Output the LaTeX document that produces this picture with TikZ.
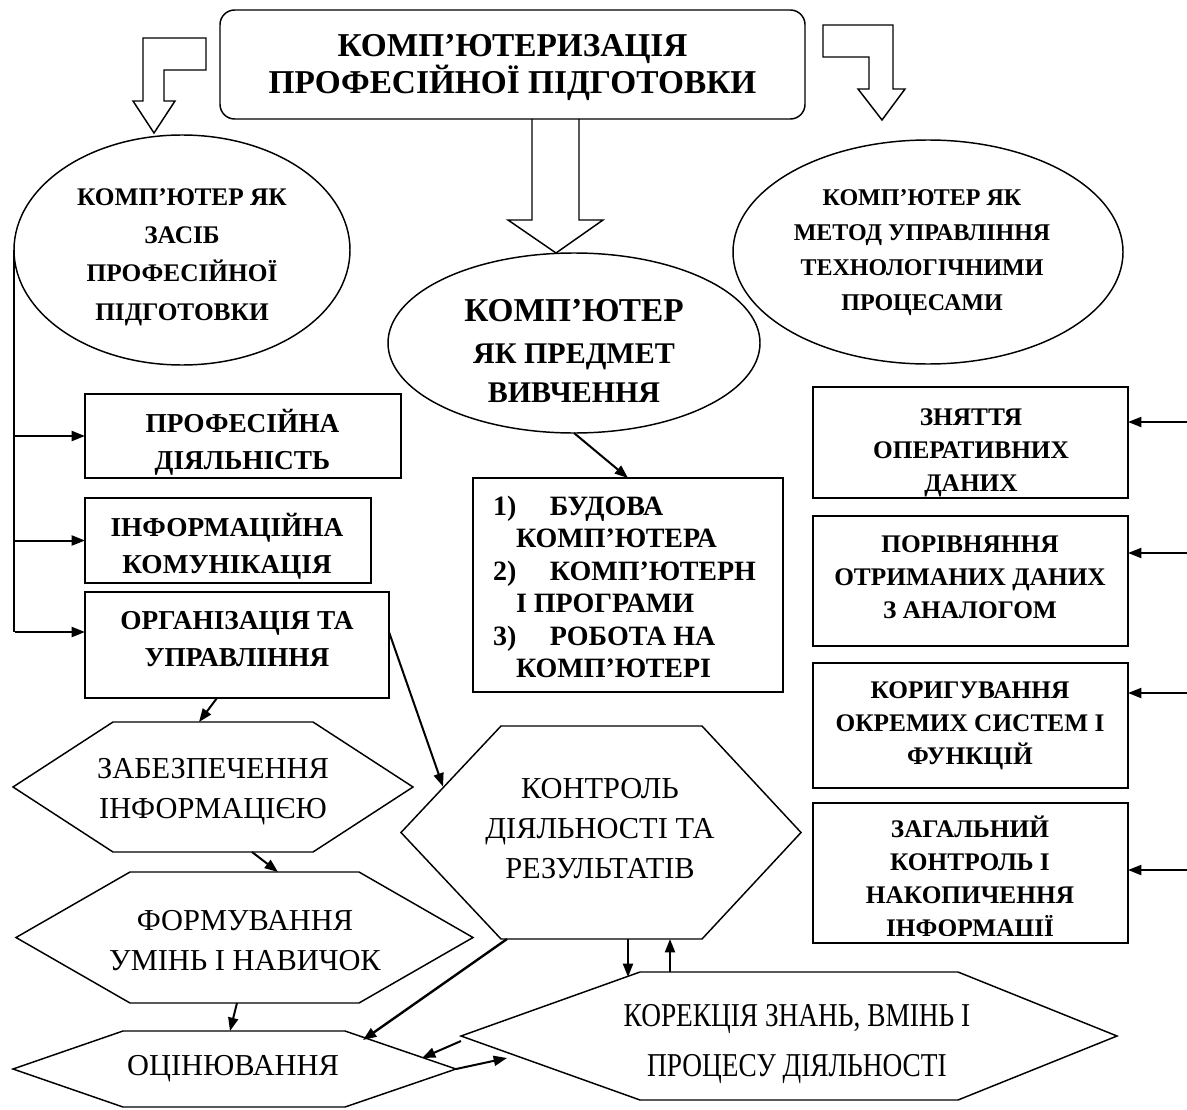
\documentclass[tikz,border=0pt]{standalone}
\usepackage{fontspec}
\setmainfont{Liberation Serif}
\newfontfamily\condfont[FakeStretch=0.82]{Liberation Serif}
\usetikzlibrary{arrows.meta,calc,shapes.geometric}
\tikzset{
 shp/.style={draw, line width=1.1pt, inner sep=0pt, outer sep=0pt},
 box/.style={shp, rectangle},
 oval/.style={shp, ellipse},
 ghost/.style={rectangle, inner sep=0pt, outer sep=0pt},
 hexline/.style={line width=1.1pt, line join=miter},
 blk/.style={draw, line width=1.1pt, line join=miter},
 ln/.style={line width=1.5pt},
 arr/.style={line width=1.5pt, -{Triangle[length=10pt,width=7.5pt]}},
 tx/.style={align=center, inner sep=0pt, outer sep=0pt},
 hdr/.style={tx, font=\fontsize{25}{27.75}\selectfont\bfseries},
 elL/.style={tx, font=\fontsize{19}{28.75}\selectfont\bfseries},
 elR/.style={tx, font=\fontsize{18}{26.25}\selectfont\bfseries},
 bxL/.style={tx, font=\fontsize{20.5}{27.75}\selectfont\bfseries},
 lst/.style={tx, align=left, font=\fontsize{21}{24.4}\selectfont\bfseries},
 bxR/.style={tx, font=\fontsize{19}{24.75}\selectfont\bfseries},
 hx/.style={tx, font=\fontsize{22.8}{30}\selectfont},
 kr/.style={tx, font=\condfont\fontsize{25}{37.5}\selectfont},
}
\newcommand{\drawhexagon}[3]{\draw[hexline] (#1.west) -- ($(#1.north west)+(#2,0)$) -- ($(#1.north east)+(-#3,0)$) -- (#1.east) -- ($(#1.south east)+(-#3,0)$) -- ($(#1.south west)+(#2,0)$) -- cycle;}
\begin{document}
\begin{tikzpicture}[x=0.75pt,y=-0.75pt]
\useasboundingbox (0,0) rectangle (1187,1109);

% top box
\node[box, rounded corners=11pt, minimum width=438.75pt, minimum height=81.75pt] (top) at (512.5,64.5) {};
\node[hdr] (topt) at (512.5,67) {КОМП’ЮТЕРИЗАЦІЯ\\ПРОФЕСІЙНОЇ ПІДГОТОВКИ};

% block arrows
\draw[blk] (206,38) -- (143,38) -- (143,101) -- (133,101) -- (154,133) -- (175,101) -- (164,101) -- (164,70) -- (206,70) -- cycle;
\draw[blk] (823,25) -- (893,25) -- (893,89) -- (905,89) -- (882,120) -- (858,89) -- (869,89) -- (869,57) -- (823,57) -- cycle;
\draw[blk] (532,119) -- (532,220) -- (508,220) -- (556,253) -- (603,220) -- (579,220) -- (579,119);

% ellipses
\node[oval, minimum width=252pt, minimum height=172.5pt] (el1) at (182,250) {};
\node[elL] (el1t) at (182,257) {КОМП’ЮТЕР ЯК\\ЗАСІБ\\ПРОФЕСІЙНОЇ\\ПІДГОТОВКИ};
\node[oval, minimum width=279pt, minimum height=135pt] (el2) at (574,343) {};
\node[tx, anchor=base, font=\fontsize{25}{30}\selectfont\bfseries] (el2a) at (574,321) {КОМП’ЮТЕР};
\node[tx, anchor=base, font=\fontsize{22.5}{27}\selectfont\bfseries] (el2b) at (574,363) {ЯК ПРЕДМЕТ};
\node[tx, anchor=base, font=\fontsize{22.5}{27}\selectfont\bfseries] (el2c) at (574,402) {ВИВЧЕННЯ};
\node[oval, minimum width=292.5pt, minimum height=168pt] (el3) at (928,252) {};
\node[elR] (el3t) at (922,253) {КОМП’ЮТЕР ЯК\\МЕТОД УПРАВЛІННЯ\\ТЕХНОЛОГІЧНИМИ\\ПРОЦЕСАМИ};

% left boxes
\node[box, minimum width=237pt, minimum height=63pt] (b1) at (243,436) {};
\node[bxL] (b1t) at (242.5,442) {ПРОФЕСІЙНА\\ДІЯЛЬНІСТЬ};
\node[box, minimum width=214.5pt, minimum height=63.75pt] (b2) at (228,540.5) {};
\node[bxL] (b2t) at (227,546.5) {ІНФОРМАЦІЙНА\\КОМУНІКАЦІЯ};
\node[box, minimum width=228pt, minimum height=79.5pt] (b3) at (237,645) {};
\node[bxL] (b3t) at (237,639.5) {ОРГАНІЗАЦІЯ ТА\\УПРАВЛІННЯ};

% list box
\node[box, minimum width=232.5pt, minimum height=160.5pt] (lb) at (628,585) {};
\node[lst, anchor=west] (lbt) at (493,587) {\makebox[42.75pt][l]{1)}БУДОВА\\\hspace*{17.25pt}КОМП’ЮТЕРА\\\makebox[42.75pt][l]{2)}КОМП’ЮТЕРН\\\hspace*{17.25pt}І ПРОГРАМИ\\\makebox[42.75pt][l]{3)}РОБОТА НА\\\hspace*{17.25pt}КОМП’ЮТЕРІ};

% right boxes
\node[box, minimum width=236.25pt, minimum height=83.25pt] (r1) at (970.5,442.5) {};
\node[bxR] (r1t) at (971,453) {ЗНЯТТЯ\\ОПЕРАТИВНИХ\\ДАНИХ};
\node[box, minimum width=236.25pt, minimum height=97.5pt] (r2) at (970.5,581) {};
\node[bxR] (r2t) at (970,577) {ПОРІВНЯННЯ\\ОТРИМАНИХ ДАНИХ\\З АНАЛОГОМ};
\node[box, minimum width=236.25pt, minimum height=93.75pt] (r3) at (970.5,725.5) {};
\node[bxR] (r3t) at (970,726) {КОРИГУВАННЯ\\ОКРЕМИХ СИСТЕМ І\\ФУНКЦІЙ};
\node[box, minimum width=236.25pt, minimum height=105pt] (r4) at (970.5,873) {};
\begin{scope}
\clip (813,803) rectangle (1128,935);
\node[bxR] (r4t) at (970,879) {ЗАГАЛЬНИЙ\\КОНТРОЛЬ І\\НАКОПИЧЕННЯ\\ІНФОРМАЦІЇ};
\end{scope}

% hexagons
\node[ghost, minimum width=300pt, minimum height=97.5pt] (h1) at (213,787) {};
\drawhexagon{h1}{100}{100}
\node[hx] (h1t) at (213,792) {ЗАБЕЗПЕЧЕННЯ\\ІНФОРМАЦІЄЮ};
\node[ghost, minimum width=342.75pt, minimum height=98.25pt] (h2) at (244.5,937.5) {};
\drawhexagon{h2}{114}{114}
\node[hx] (h2t) at (245,941) {ФОРМУВАННЯ\\УМІНЬ І НАВИЧОК};
\node[ghost, minimum width=332.25pt, minimum height=57pt] (h3) at (234.5,1069) {};
\drawhexagon{h3}{110}{111}
\node[hx] (h3t) at (233,1069) {ОЦІНЮВАННЯ};
\node[ghost, minimum width=300pt, minimum height=159.75pt] (hk) at (601,832.5) {};
\drawhexagon{hk}{100}{99}
\node[hx] (hkt) at (600,829) {КОНТРОЛЬ\\ДІЯЛЬНОСТІ ТА\\РЕЗУЛЬТАТІВ};
\node[ghost, minimum width=492pt, minimum height=96pt] (hr) at (789,1036) {};
\drawhexagon{hr}{179}{159}
\node[kr] (hrt) at (797,1044) {КОРЕКЦІЯ ЗНАНЬ, ВМІНЬ І\\ПРОЦЕСУ ДІЯЛЬНОСТІ};

% left bus
\coordinate (lbus) at (15,632);
\draw[ln] (el1.west) -- (el1.west |- lbus);
\draw[arr] (el1.west |- b1.west) -- (b1.west);
\draw[arr] (el1.west |- b2.west) -- (b2.west);
\draw[arr] (lbus) -- (lbus -| b3.west);

% right inputs
\coordinate (e1) at (1187,422);
\coordinate (e2) at (1187,553);
\coordinate (e3) at (1187,693);
\coordinate (e4) at (1187,870);
\draw[arr] (e1) -- (e1 -| r1.east);
\draw[arr] (e2) -- (e2 -| r2.east);
\draw[arr] (e3) -- (e3 -| r3.east);
\draw[arr] (e4) -- (e4 -| r4.east);

% flow arrows
\draw[arr] (el2.south) -- (lb.north);
\draw[arr] ($(b3.south)+(-20,0)$) -- ($(h1.north)+(-14,0)$);
\draw[arr] ($(h1.south)+(39,0)$) -- ($(h2.north)+(33.5,0)$);
\draw[arr] ($(h2.south)+(-7.5,0)$) -- ($(h3.north)+(-4.5,0)$);
\draw[arr] ($(b3.east)+(0,-13)$) -- ($(hk.west)+(42,-46)$);
\draw[arr, line width=1.8pt] ($(hk.south)+(-94,0)$) -- ($(h3.north east)+(-93,9)$);
\draw[arr] ($(hk.south)+(27,0)$) -- ($(hr.north west)+(167,5)$);
\draw[arr] ($(hr.north west)+(209,0)$) -- ($(hk.south)+(69,0)$);
\draw[arr] ($(hr.west)+(0,5)$) -- ($(h3.east)+(-34,-11)$);
\draw[arr] (h3.east) -- ($(hr.west)+(46,22)$);
\end{tikzpicture}
\end{document}
